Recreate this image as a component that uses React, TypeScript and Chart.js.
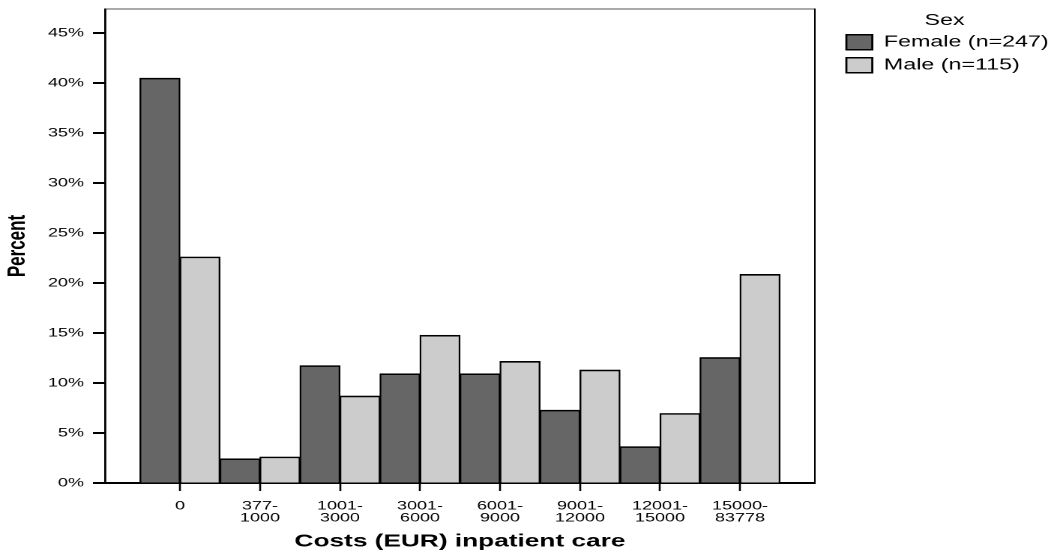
import React, { useEffect, useRef } from 'react';
import { Chart, registerables } from 'chart.js';

Chart.register(...registerables);

// ---------- data ----------
const categoryLabels: string[][] = [
  ['0'],
  ['377-', '1000'],
  ['1001-', '3000'],
  ['3001-', '6000'],
  ['6001-', '9000'],
  ['9001-', '12000'],
  ['12001-', '15000'],
  ['15000-', '83778'],
];
const femalePercent = [40.49, 2.43, 11.74, 10.93, 10.93, 7.29, 3.64, 12.55];
const malePercent = [22.61, 2.61, 8.7, 14.78, 12.17, 11.3, 6.96, 20.87];
const seriesNames = ['Female (n=247)', 'Male (n=115)'];
const yTickValues = [0, 5, 10, 15, 20, 25, 30, 35, 40, 45];
const legendTitle = 'Sex';
const xTitle = 'Costs (EUR) inpatient care';
const yTitle = 'Percent';

// ---------- layout ----------
const OUT_W = 1054;
const OUT_H = 556;
const IN_W = 703;
const SX = OUT_W / IN_W;
const FONT = '"Liberation Sans", Arial, Helvetica, sans-serif';

const zeroPad = (s: any) => {
  s.paddingTop = 0;
  s.paddingBottom = 0;
  s.paddingLeft = 0;
  s.paddingRight = 0;
};

export default function App() {
  const ref = useRef<HTMLCanvasElement | null>(null);

  useEffect(() => {
    if (!ref.current) return;
    const ctx = ref.current.getContext('2d');
    if (!ctx) return;
    Chart.defaults.font.family = FONT;
    Chart.defaults.color = '#000';

    const barBorder = { top: 1.6, left: 1.2, right: 1.2, bottom: 0 };

    const chart = new Chart(ctx, {
      type: 'bar',
      data: {
        datasets: [
          {
            label: seriesNames[0],
            data: femalePercent.map((v, i) => ({ x: i, y: v })),
            backgroundColor: '#666666',
            borderColor: '#000000',
            borderWidth: barBorder,
            borderSkipped: false,
            categoryPercentage: 1,
            barPercentage: 1,
          },
          {
            label: seriesNames[1],
            data: malePercent.map((v, i) => ({ x: i, y: v })),
            backgroundColor: '#cccccc',
            borderColor: '#000000',
            borderWidth: barBorder,
            borderSkipped: false,
            categoryPercentage: 1,
            barPercentage: 1,
          },
        ],
      } as any,
      options: {
        animation: false,
        responsive: false,
        devicePixelRatio: 2,
        events: [],
        layout: { padding: 0 },
        scales: {
          x: {
            type: 'linear',
            position: 'bottom',
            min: -0.9375,
            max: 7.9375,
            offset: false,
            grid: {
              display: true,
              offset: false,
              drawOnChartArea: false,
              drawTicks: true,
              tickLength: 8,
              tickWidth: 1.3,
              tickColor: '#000',
              color: '#000',
            },
            border: { display: true, color: '#000', width: 2 },
            afterBuildTicks: (axis: any) => {
              axis.ticks = categoryLabels.map((_, i) => ({ value: i }));
            },
            afterFit: (s: any) => {
              s.height = 73;
              zeroPad(s);
            },
            ticks: {
              autoSkip: false,
              maxRotation: 0,
              minRotation: 0,
              padding: 9,
              color: '#000',
              font: { family: FONT, size: 12, lineHeight: 1 },
              callback: (value: any) => categoryLabels[Math.round(Number(value))] ?? '',
            },
            title: {
              display: true,
              text: xTitle,
              color: '#000',
              font: { family: FONT, size: 17.5, weight: 'bold', lineHeight: 1 },
              padding: { top: 0, bottom: 5.5 },
            },
          },
          x2: {
            type: 'linear',
            position: 'top',
            display: true,
            grid: { display: false, drawTicks: false },
            ticks: { display: false },
            border: { display: true, color: '#555', width: 1 },
            afterFit: (s: any) => {
              s.height = 9;
              zeroPad(s);
            },
          },
          y: {
            type: 'linear',
            position: 'left',
            min: 0,
            max: 47.4,
            grid: {
              display: true,
              drawOnChartArea: false,
              drawTicks: true,
              tickLength: 8,
              tickWidth: 2,
              tickColor: '#000',
              color: '#000',
            },
            border: { display: true, color: '#000', width: 1.4 },
            afterBuildTicks: (axis: any) => {
              axis.ticks = yTickValues.map((v) => ({ value: v }));
            },
            afterFit: (s: any) => {
              s.width = 70;
              zeroPad(s);
            },
            ticks: {
              padding: 6,
              color: '#000',
              font: { family: FONT, size: 12 },
              callback: (value: any) => `${value}%`,
            },
            title: {
              display: true,
              text: yTitle,
              color: '#000',
              font: { family: FONT, size: 17, weight: 'bold', lineHeight: 1 },
              padding: { top: 3.5, bottom: 0 },
            },
          },
          y2: {
            type: 'linear',
            position: 'right',
            display: true,
            grid: { display: false, drawTicks: false },
            ticks: { display: false },
            border: { display: true, color: '#000', width: 1 },
            afterFit: (s: any) => {
              s.width = 13.4;
              zeroPad(s);
            },
          },
        },
        plugins: {
          tooltip: { enabled: false },
          legend: {
            display: true,
            position: 'right',
            align: 'start',
            maxWidth: 146,
            title: {
              display: true,
              text: legendTitle,
              color: '#000',
              font: { family: FONT, size: 15.5, lineHeight: 1 },
              padding: { top: 13, bottom: -1.5 },
            },
            labels: {
              color: '#000',
              font: { family: FONT, size: 15.5 },
              boxWidth: 17.3,
              boxHeight: 15,
              padding: 7.5,
              generateLabels: (c: any) =>
                (Chart.defaults.plugins.legend.labels.generateLabels as any)(c).map((l: any) => ({
                  ...l,
                  lineWidth: 1.4,
                  strokeStyle: '#000',
                })),
            },
          },
        },
      } as any,
    });

    return () => chart.destroy();
  }, []);

  return (
    <div
      style={{
        position: 'fixed',
        left: 0,
        top: 0,
        width: OUT_W,
        height: OUT_H,
        overflow: 'hidden',
        background: '#fff',
      }}
    >
      <div
        style={{
          width: IN_W,
          height: OUT_H,
          transform: `scaleX(${SX})`,
          transformOrigin: '0 0',
        }}
      >
        <canvas ref={ref} width={IN_W} height={OUT_H} />
      </div>
    </div>
  );
}
